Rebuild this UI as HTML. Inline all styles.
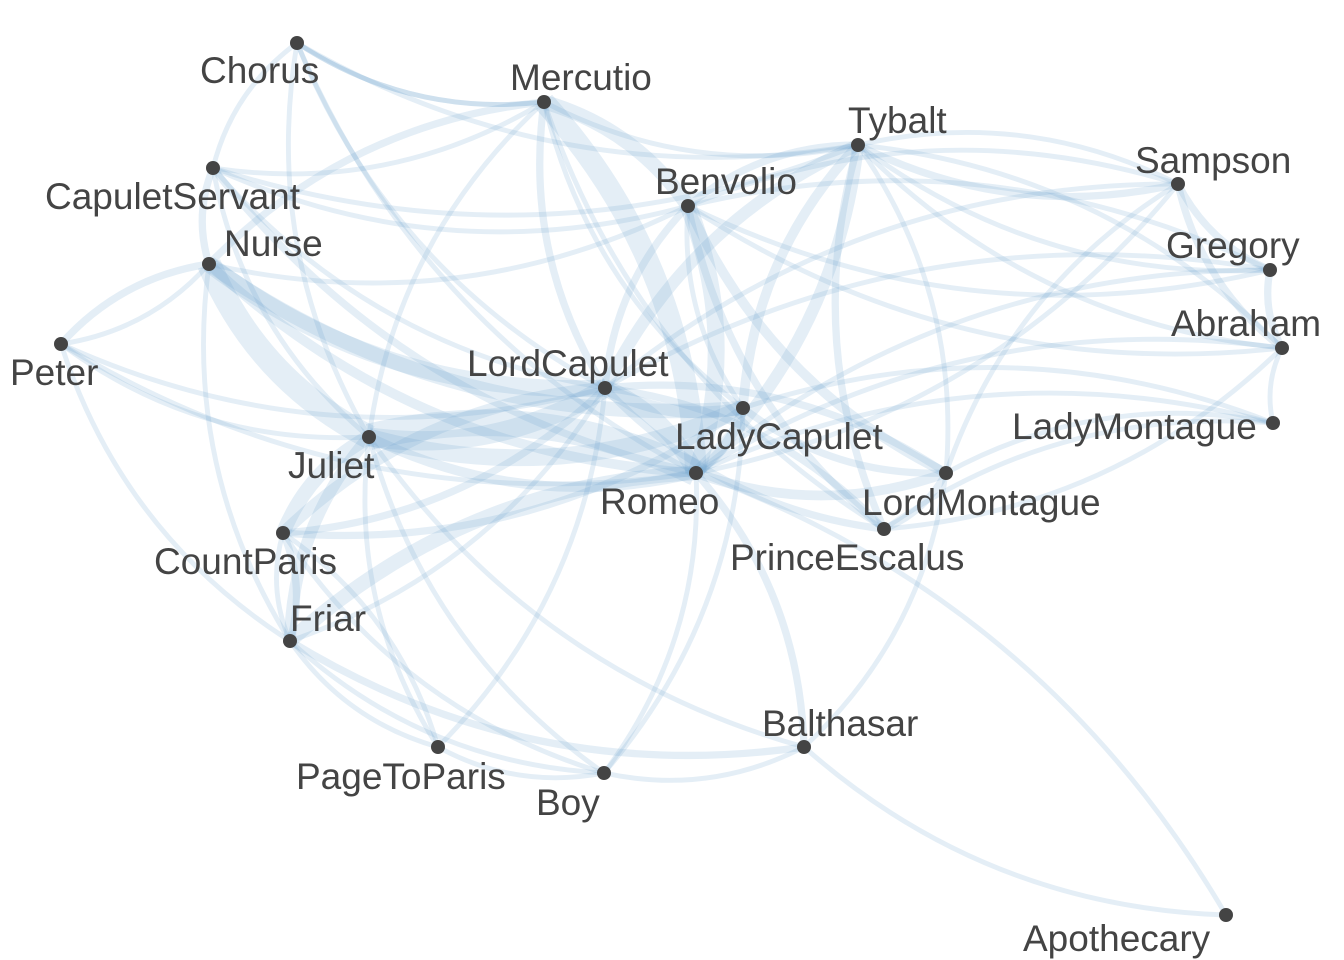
<!DOCTYPE html>
<html><head><meta charset="utf-8"><style>
html,body{margin:0;padding:0;background:#fff;}
svg{display:block;}
text{font-family:"Liberation Sans",Arial,sans-serif;font-size:37px;fill:#444;}
</style></head><body>
<svg id="chart" width="1344" height="960" viewBox="0 0 1344 960">
<g id="edges"></g>
<g id="nodes"></g>
</svg>
<script>
const nodeNames = ["Chorus","Mercutio","Tybalt","Sampson","CapuletServant","Benvolio","Nurse","Gregory","Peter","Abraham","LordCapulet","LadyCapulet","LadyMontague","Juliet","Romeo","LordMontague","PrinceEscalus","CountParis","Friar","Balthasar","PageToParis","Boy","Apothecary"];
const nodeX = [297,544,858,1178,213,688,209,1270,61,1282,605,743,1273,369,696,946,884,283,290,804,438,604,1226];
const nodeY = [43,102,145,184,168,206,264,270,344,348,388,408,423,437,473,473,529,533,641,747,747,773,915];
const labelX = [200,510,848,1135,45,655,224,1166,10,1171,467,675,1012,288,600,862,730,154,290,762,296,536,1023];
const labelY = [70,77,120,160,196,181,243,245,372,323,363,436,426,465,501,502,557,561,618,723,776,802,938];
const edgeSource = ["Romeo","Nurse","Romeo","Romeo","Juliet","Juliet","Nurse","Nurse","Romeo","Juliet","Romeo","Benvolio","Tybalt","Tybalt","Romeo","Juliet","Juliet","LordCapulet","LordCapulet","Romeo","Romeo","Benvolio","Benvolio","Benvolio","Mercutio","Mercutio","Tybalt","Tybalt","Chorus","Chorus","Chorus","CapuletServant","CapuletServant","CapuletServant","Peter","Peter","Peter","Sampson","Sampson","Sampson","Gregory","Gregory","Abraham","LadyMontague","LadyMontague","PrinceEscalus","PrinceEscalus","Friar","Friar","Friar","Balthasar","Balthasar","PageToParis","PageToParis","Boy","Boy","CountParis","CountParis","Apothecary","Sampson","Nurse","Mercutio","Benvolio","Tybalt","Chorus","LordMontague","LordMontague","CapuletServant","Nurse","Juliet",
"Chorus","Chorus","Chorus","Mercutio","Mercutio","Mercutio","CapuletServant","CapuletServant","CapuletServant","Peter","Peter","Nurse","Nurse","Sampson","Sampson","Gregory","Gregory","Abraham","Abraham","LadyMontague","LadyMontague","Tybalt","Tybalt","Benvolio","Benvolio","Juliet","Juliet","CountParis","CountParis","Friar","Friar","PageToParis","Boy","Balthasar","PrinceEscalus","LordCapulet","LadyCapulet","Romeo"];
const edgeTarget = ["Juliet","Juliet","Mercutio","Benvolio","LordCapulet","LadyCapulet","LordCapulet","LadyCapulet","Friar","CountParis","LordCapulet","Mercutio","LordCapulet","LadyCapulet","Tybalt","Friar","Romeo","LadyCapulet","CountParis","LadyCapulet","LordMontague","LordMontague","PrinceEscalus","LordCapulet","LordCapulet","Nurse","PrinceEscalus","Sampson","Romeo","Juliet","Tybalt","Nurse","Romeo","Juliet","Nurse","Juliet","Friar","Gregory","Abraham","LordMontague","Abraham","Benvolio","LadyMontague","LordMontague","PrinceEscalus","LordMontague","LordCapulet","CountParis","Balthasar","PageToParis","Romeo","Apothecary","CountParis","Boy","Romeo","Balthasar","LordCapulet","LadyCapulet","Romeo","Tybalt","Romeo","PrinceEscalus","Gregory","Benvolio","Mercutio","LordCapulet","Tybalt","Benvolio","Peter","Boy",
"Mercutio","CapuletServant","LordCapulet","Tybalt","Juliet","LadyCapulet","Tybalt","LordCapulet","Mercutio","LordCapulet","Romeo","Friar","Benvolio","Benvolio","LordCapulet","LordCapulet","Romeo","Romeo","Tybalt","Romeo","LadyCapulet","Gregory","Abraham","Abraham","LadyCapulet","Balthasar","PageToParis","Friar","Boy","Boy","LordCapulet","LordCapulet","LadyCapulet","LordMontague","Abraham","PrinceEscalus","LordMontague","Sampson"];
const edgeWeight = [10,9,8,6,7,6,6,5,5,5,6,5,4,3,4,4,3,4,4,3,3,3,2,2,2,2,2,2,1,1,1,2,2,1,1,1,1,2,2,1,2,1,1,1,1,2,2,2,2,1,2,1,1,1,1,1,2,2,1,1,3,1,1,2,1,2,1,1,2,1,
1,1,1,1,1,1,1,1,1,1,1,1,1,1,1,1,1,1,1,1,1,1,1,1,1,1,1,1,1,1,1,1,1,1,1,2,2,1];

const NS="http://www.w3.org/2000/svg";
const eg=document.getElementById('edges'), ng=document.getElementById('nodes');
const idx = n => nodeNames.indexOf(n);
const wScale = w => 2.5 + w*2.4;
for(let i=0;i<edgeSource.length;i++){
  const a=idx(edgeSource[i]), b=idx(edgeTarget[i]);
  if(a<0||b<0) continue;
  const x1=nodeX[a],y1=nodeY[a],x2=nodeX[b],y2=nodeY[b];
  const dx=x2-x1, dy=y2-y1;
  const cx=(x1+x2)/2 - dy*0.18, cy=(y1+y2)/2 + dx*0.18;
  const p=document.createElementNS(NS,'path');
  p.setAttribute('d',`M${x1},${y1} Q${cx},${cy} ${x2},${y2}`);
  p.setAttribute('fill','none');
  p.setAttribute('stroke','rgb(107,160,205)');
  p.setAttribute('stroke-opacity','0.18');
  p.setAttribute('stroke-width',wScale(edgeWeight[i]));
  
  
  eg.appendChild(p);
}
for(let i=0;i<nodeNames.length;i++){
  const c=document.createElementNS(NS,'circle');
  c.setAttribute('cx',nodeX[i]); c.setAttribute('cy',nodeY[i]); c.setAttribute('r',7);
  c.setAttribute('fill','#444');
  
  
  ng.appendChild(c);
  const t=document.createElementNS(NS,'text');
  t.setAttribute('x',labelX[i]); t.setAttribute('y',labelY[i]+13);
  t.textContent=nodeNames[i];
  
  
  ng.appendChild(t);
}
</script>
</body></html>
